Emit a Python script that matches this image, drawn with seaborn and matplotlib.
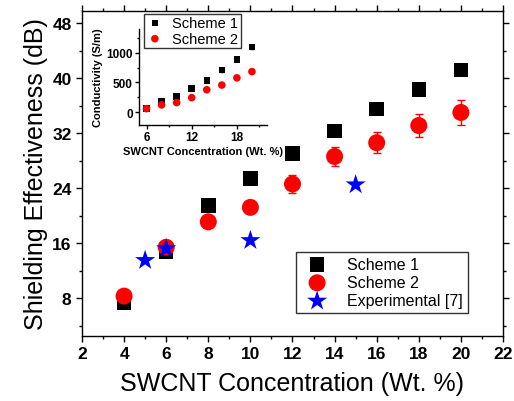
import numpy as np
import pandas as pd
import matplotlib
matplotlib.use('Agg')
import matplotlib.pyplot as plt
import seaborn as sns

# shielding effectiveness (main plot)
conc = [4, 6, 8, 10, 12, 14, 16, 18, 20]
se_scheme1 = [7.4, 14.8, 21.5, 25.4, 29.0, 32.3, 35.5, 38.3, 41.2]
se_scheme2 = [8.3, 15.4, 19.1, 21.2, 24.6, 28.6, 30.6, 33.1, 35.0]
se_scheme2_err = [0.3, 0.4, 0.5, 0.6, 1.25, 1.4, 1.55, 1.65, 1.8]
exp_conc = [5, 6, 10, 15]
exp_se = [13.5, 15.2, 16.4, 24.5]

# conductivity (inset)
cond_conc = [6, 8, 10, 12, 14, 16, 18, 20]
cond_scheme1 = [60, 178, 267, 395, 533, 707, 890, 1095]
cond_scheme1_err = [10, 12, 15, 18, 20, 25, 30, 40]
cond_scheme2 = [60, 123, 162, 245, 378, 457, 578, 683]

sns.set_style('ticks')
plt.rcParams['font.family'] = ['Liberation Sans', 'DejaVu Sans']
plt.rcParams['text.color'] = 'black'
plt.rcParams['axes.labelcolor'] = 'black'
plt.rcParams['xtick.color'] = 'black'
plt.rcParams['ytick.color'] = 'black'

fig = plt.figure(figsize=(5.14, 4.02), dpi=100)
ax = fig.add_axes([0.1595, 0.1617, 0.8191, 0.8084])

main = pd.DataFrame({'conc': conc, 's1': se_scheme1, 's2': se_scheme2})
ax.errorbar(conc, se_scheme2, yerr=se_scheme2_err, fmt='none', ecolor='red',
            elinewidth=1, capsize=3, zorder=2)
sns.scatterplot(data=main, x='conc', y='s1', marker='s', s=110, color='black',
                edgecolor='none', ax=ax, label='Scheme 1', zorder=3)
sns.scatterplot(data=main, x='conc', y='s2', marker='o', s=150, color='red',
                edgecolor='none', ax=ax, label='Scheme 2', zorder=3)
sns.scatterplot(x=exp_conc, y=exp_se, marker='*', s=230, color='blue',
                edgecolor='none', ax=ax, label='Experimental [7]', zorder=4)

ax.set_xlim(2, 22)
ax.set_ylim(2.5, 49.75)
ax.set_xticks(range(2, 23, 2))
ax.set_xticks(range(3, 22, 2), minor=True)
ax.set_yticks(range(8, 49, 8))
ax.set_yticks(range(4, 49, 8), minor=True)
ax.tick_params(which='major', direction='out', length=4, width=1,
               top=True, right=True, labelsize=12.5)
ax.tick_params(which='minor', direction='out', length=2.5, width=1,
               top=True, right=True)
for lab in ax.get_xticklabels() + ax.get_yticklabels():
    lab.set_fontweight('bold')
for sp in ax.spines.values():
    sp.set_visible(True)
    sp.set_linewidth(1)
    sp.set_color('black')
ax.set_xlabel('SWCNT Concentration (Wt. %)', fontsize=18, labelpad=7)
ax.set_ylabel('Shielding Effectiveness (dB)', fontsize=18, labelpad=3)

leg = ax.legend(loc='lower right', bbox_to_anchor=(0.9105, 0.219),
                bbox_transform=fig.transFigure, fontsize=11.5, frameon=True,
                fancybox=False, edgecolor='black', borderpad=0.3,
                handletextpad=0.9, labelspacing=0.2, borderaxespad=0)
leg.get_frame().set_linewidth(1)

# inset
ins = fig.add_axes([0.2704, 0.6873, 0.2491, 0.2381])
ins.patch.set_alpha(0)
ins.errorbar(cond_conc, cond_scheme1, yerr=cond_scheme1_err, fmt='none',
             ecolor='black', elinewidth=1, capsize=1.5, zorder=2)
sns.scatterplot(x=cond_conc, y=cond_scheme1, marker='s', s=22, color='black',
                edgecolor='none', ax=ins, label='Scheme 1', zorder=3)
sns.scatterplot(x=cond_conc, y=cond_scheme2, marker='o', s=30, color='red',
                edgecolor='none', ax=ins, label='Scheme 2', zorder=3)
ins.set_xlim(5, 22)
ins.set_ylim(-210, 1400)
ins.set_xticks([6, 12, 18])
ins.set_xticks([9, 15, 21], minor=True)
ins.set_yticks([0, 500, 1000])
ins.set_yticks([250, 750, 1250], minor=True)
ins.tick_params(which='major', direction='out', length=3, width=1, labelsize=8.5, pad=1.5)
ins.tick_params(which='minor', direction='out', length=1.5, width=1)
for lab in ins.get_xticklabels() + ins.get_yticklabels():
    lab.set_fontweight('bold')
sns.despine(ax=ins)
for sp in ['left', 'bottom']:
    ins.spines[sp].set_linewidth(1)
    ins.spines[sp].set_color('black')
ins.set_xlabel('SWCNT Concentration (Wt. %)', fontsize=8, fontweight='bold', labelpad=2)
ins.set_ylabel('Conductivity (S/m)', fontsize=8, fontweight='bold', labelpad=2)
ileg = ins.legend(loc='upper left', bbox_to_anchor=(0.280, 0.963),
                  bbox_transform=fig.transFigure, fontsize=10.5, frameon=True,
                  fancybox=False, edgecolor='black', borderpad=0.15,
                  handletextpad=0.6, labelspacing=0.1, handlelength=1.2,
                  borderaxespad=0)
ileg.get_frame().set_linewidth(1)

fig.savefig('out.png', dpi=100)
